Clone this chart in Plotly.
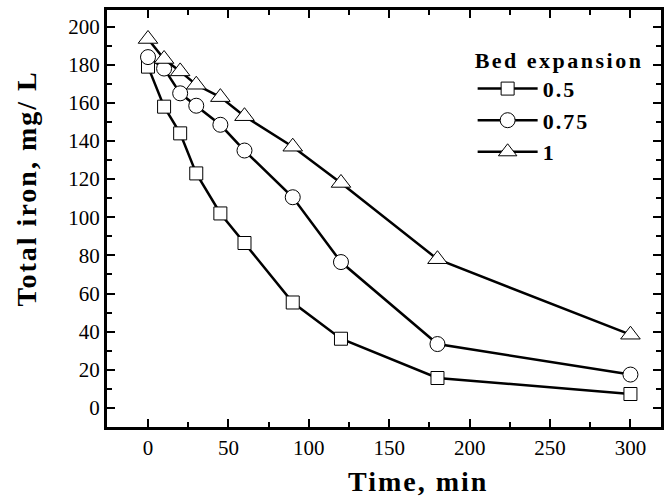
import plotly.graph_objects as go

time_min = [0, 10, 20, 30, 45, 60, 90, 120, 180, 300]
iron_05 = [179, 158, 144, 123, 102, 86.5, 55.3, 36.3, 15.7, 7.3]
iron_075 = [184, 178, 165, 158.5, 148.5, 135, 110.5, 76.5, 33.5, 17.5]
iron_1 = [193.5, 183, 176.5, 169.5, 163, 153, 137, 118, 78, 38.4]
series_names = ["0.5", "0.75", "1"]
x_ticks = [0, 50, 100, 150, 200, 250, 300]
y_ticks = list(range(0, 201, 20))
symbols = ["square", "circle", "triangle-up"]
sizes = [13, 15, 17]

FONT = "Liberation Serif, Times New Roman, serif"


def spaced(t, ls):
    return f'<span style="letter-spacing:{ls}px">{t}</span>'


fig = go.Figure()
for i, (name, vals) in enumerate(zip(series_names, [iron_05, iron_075, iron_1])):
    fig.add_trace(go.Scatter(
        x=time_min, y=vals, name=spaced(name, 2), mode="lines+markers",
        legendgroup=name,
        line=dict(color="black", width=2.5),
        marker=dict(symbol=symbols[i], size=sizes[i], color="white",
                    line=dict(color="black", width=1)),
    ))

axis_common = dict(
    showline=True, linecolor="black", linewidth=3, mirror="allticks",
    ticks="inside", ticklen=8, tickwidth=2, tickcolor="black",
    showgrid=False, zeroline=False, automargin=False,
    tickfont=dict(family=FONT, size=21, color="black"),
)

fig.update_layout(
    width=664, height=503,
    margin=dict(l=107, r=3, t=10, b=76),
    paper_bgcolor="white", plot_bgcolor="white",
    font=dict(family=FONT, color="black"),
    xaxis=dict(
        range=[-25.5, 319], tickvals=x_ticks,
        minor=dict(dtick=25, tick0=0, ticks="inside", ticklen=5, tickwidth=2, tickcolor="black"),
        **axis_common,
    ),
    yaxis=dict(
        range=[-10, 208.7], tickvals=y_ticks,
        minor=dict(dtick=10, tick0=0, ticks="inside", ticklen=5, tickwidth=2, tickcolor="black"),
        **axis_common,
    ),
    legend=dict(
        x=0.66, y=0.93, xanchor="left", yanchor="top",
        bgcolor="rgba(0,0,0,0)",
        title=dict(text=spaced("Bed expansion", 2.5), font=dict(family=FONT, size=22, color="black", weight="bold")),
        font=dict(family=FONT, size=22, color="black", weight="bold"),
        traceorder="grouped", tracegroupgap=0, itemwidth=60,
    ),
    showlegend=True,
    annotations=[
        dict(text=spaced("Time, min", 2), xref="paper", yref="paper",
             x=0.561, y=-0.13, xanchor="center", yanchor="middle", showarrow=False,
             font=dict(family=FONT, size=28, color="black", weight="bold")),
        dict(text=spaced("Total iron, mg/ L", 2), xref="paper", yref="paper",
             x=-0.146, y=0.572, xanchor="center", yanchor="middle", showarrow=False,
             textangle=-90,
             font=dict(family=FONT, size=28, color="black", weight="bold")),
    ],
)

fig.write_html("out.html", config={"displayModeBar": False},
               post_script="document.body.style.margin='0';document.body.style.overflow='hidden';")
